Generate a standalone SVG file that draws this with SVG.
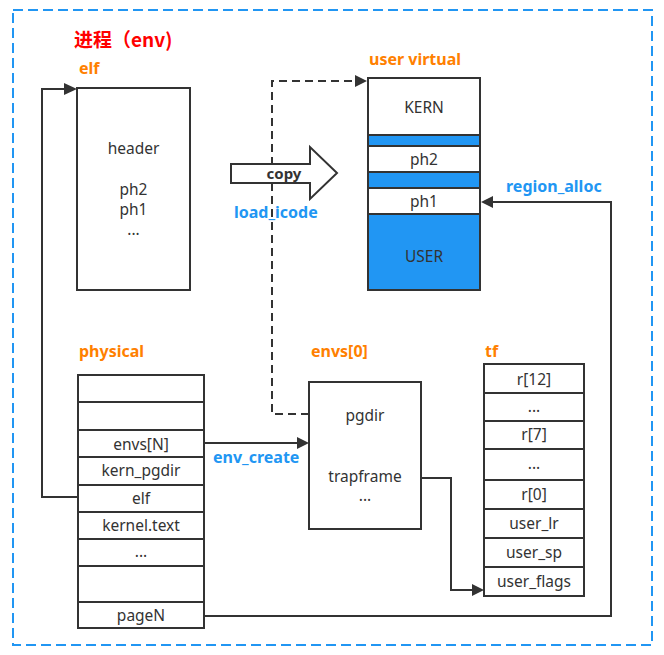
<svg xmlns="http://www.w3.org/2000/svg" width="664" height="655" viewBox="0 0 664 655">
<defs>
<style>
.box{fill:#fff;stroke:#333;stroke-width:2}
.blue{fill:#2196F3;stroke:#333;stroke-width:2}
.t{font-family:"Noto Sans","Liberation Sans",sans-serif;font-size:15.5px;fill:#333;text-anchor:middle;dominant-baseline:central}
.lbl{font-family:"Noto Sans","Liberation Sans",sans-serif;font-size:16px;font-weight:bold;fill:#FF8000}
.fn{font-family:"Noto Sans","Liberation Sans",sans-serif;font-size:16px;font-weight:bold;fill:#2196F3}
.ln{fill:none;stroke:#333;stroke-width:2}
.dash{fill:none;stroke:#333;stroke-width:2;stroke-dasharray:8 5}
.ah{fill:#333}
</style>
</defs>
<rect width="664" height="655" fill="#fff"/>
<rect x="13" y="10" width="639" height="635" fill="none" stroke="#2196F3" stroke-width="2" stroke-dasharray="10 5"/>
<text x="74" y="47" font-family="'Noto Sans CJK SC',sans-serif" font-size="19" font-weight="bold" fill="#FF0000">进程（env)</text>

<g id="connectors">
<path class="ln" d="M78,497 H42 V89 H66"/>
<path class="ah" d="M77,89 L64,83 L64,95 z"/>
<path class="dash" d="M309,414 H272 V81 H355"/>
<path class="ah" d="M367,81 L355,75 L355,87 z"/>
<path class="ln" d="M204,443 H297"/>
<path class="ah" d="M309,443 L297,437 L297,449 z"/>
<path class="ln" d="M421,478 H451 V590 H472"/>
<path class="ah" d="M484,590 L472,584 L472,596 z"/>
<path class="ln" d="M204,616 H611 V202 H493"/>
<path class="ah" d="M481,202 L493,196 L493,208 z"/>
<text class="fn" x="213" y="463">env_create</text>
<text class="fn" x="506" y="192">region_alloc</text>
</g>

<g id="copy">
<path d="M231,164 H310 V147 L337,173 L310,199 V183 H231 z" fill="#fff" stroke="#333" stroke-width="2"/>
<text x="284" y="179" font-family="'Noto Sans','Liberation Sans',sans-serif" font-size="15" font-weight="bold" fill="#333" text-anchor="middle">copy</text>
<text class="fn" x="234" y="218">load_icode</text>
</g>

<g id="elf">
<text class="lbl" x="79" y="74">elf</text>
<rect class="box" x="77" y="88" width="113" height="202"/>
<text class="t" x="133.5" y="148">header</text>
<text class="t" x="133.5" y="189">ph2</text>
<text class="t" x="133.5" y="209">ph1</text>
<text class="t" x="133.5" y="229">...</text>
</g>

<g id="user-virtual">
<text class="lbl" x="369" y="65">user virtual</text>
<rect class="box" x="368" y="78" width="112" height="57"/>
<rect class="blue" x="368" y="135" width="112" height="11"/>
<rect class="box" x="368" y="146" width="112" height="26"/>
<rect class="blue" x="368" y="172" width="112" height="16"/>
<rect class="box" x="368" y="188" width="112" height="26"/>
<rect class="blue" x="368" y="214" width="112" height="76"/>
<text class="t" x="424" y="107">KERN</text>
<text class="t" x="424" y="159">ph2</text>
<text class="t" x="424" y="201">ph1</text>
<text class="t" x="424" y="256">USER</text>
</g>

<g id="physical">
<text class="lbl" x="79" y="357">physical</text>
<rect class="box" x="78" y="375" width="126" height="27"/>
<rect class="box" x="78" y="402" width="126" height="28"/>
<rect class="box" x="78" y="430" width="126" height="27"/>
<rect class="box" x="78" y="457" width="126" height="28"/>
<rect class="box" x="78" y="485" width="126" height="27"/>
<rect class="box" x="78" y="512" width="126" height="27"/>
<rect class="box" x="78" y="539" width="126" height="27"/>
<rect class="box" x="78" y="566" width="126" height="36"/>
<rect class="box" x="78" y="602" width="126" height="26"/>
<text class="t" x="141" y="444">envs[N]</text>
<text class="t" x="141" y="470">kern_pgdir</text>
<text class="t" x="141" y="498">elf</text>
<text class="t" x="141" y="525">kernel.text</text>
<text class="t" x="141" y="551">...</text>
<text class="t" x="141" y="615">pageN</text>
</g>

<g id="envs0">
<text class="lbl" x="311" y="357">envs[0]</text>
<rect class="box" x="309" y="382" width="112" height="147"/>
<text class="t" x="365" y="415">pgdir</text>
<text class="t" x="365" y="476">trapframe</text>
<text class="t" x="365" y="495">...</text>
</g>

<g id="tf">
<text class="lbl" x="485" y="357">tf</text>
<rect class="box" x="484" y="364" width="100" height="29"/>
<rect class="box" x="484" y="393" width="100" height="28"/>
<rect class="box" x="484" y="421" width="100" height="28"/>
<rect class="box" x="484" y="449" width="100" height="31"/>
<rect class="box" x="484" y="480" width="100" height="29"/>
<rect class="box" x="484" y="509" width="100" height="29"/>
<rect class="box" x="484" y="538" width="100" height="29"/>
<rect class="box" x="484" y="567" width="100" height="29"/>
<text class="t" x="534" y="379">r[12]</text>
<text class="t" x="534" y="406">...</text>
<text class="t" x="534" y="434">r[7]</text>
<text class="t" x="534" y="463">...</text>
<text class="t" x="534" y="494">r[0]</text>
<text class="t" x="534" y="523">user_lr</text>
<text class="t" x="534" y="552">user_sp</text>
<text class="t" x="534" y="581">user_flags</text>
</g>
</svg>
